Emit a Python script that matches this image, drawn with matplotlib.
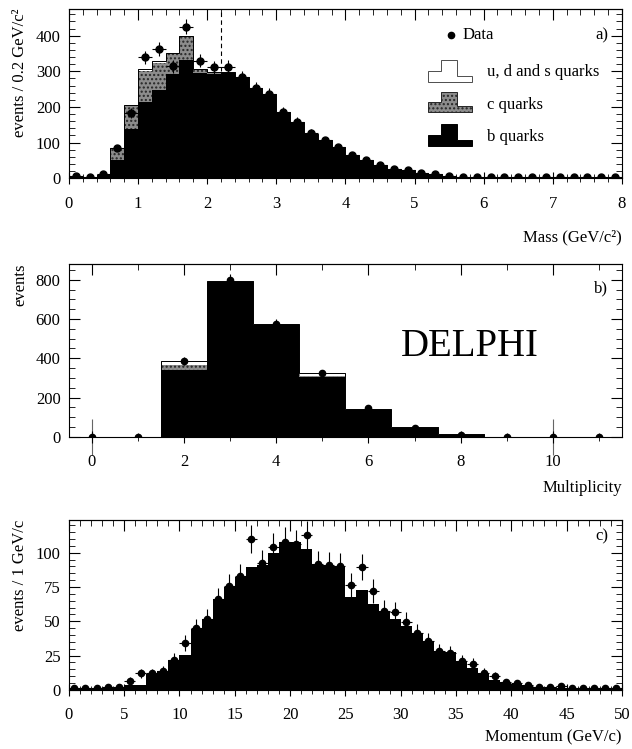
import numpy as np
import matplotlib
matplotlib.use('Agg')
import matplotlib.pyplot as plt
from matplotlib.ticker import MultipleLocator
from matplotlib.patches import Polygon

plt.rcParams['font.family'] = ['Liberation Serif', 'DejaVu Serif']
plt.rcParams['font.size'] = 12

'''Data'''
# a) mass, 0.2 GeV/c^2 bins from 0 to 8
mass_width = 0.2
mass_b = [3, 2, 8, 52, 138, 213, 248, 293, 332, 295, 293, 296, 283, 253, 237, 186, 158, 125, 106, 88,
          66, 50, 36, 27, 22, 15, 11, 7, 4, 3, 2, 2, 1.5, 1.5, 1, 1, 1, 1, 1, 1]
mass_c = [0, 0, 1, 31, 65, 89, 76, 56, 63, 10, 2, 0, 0, 0, 0, 0, 0, 0, 0, 0,
          0, 0, 0, 0, 0, 0, 0, 0, 0, 0, 0, 0, 0, 0, 0, 0, 0, 0, 0, 0]
mass_uds = [0, 0, 0, 2, 3, 4, 4, 3, 3, 2, 2, 1, 0, 0, 0, 0, 0, 0, 0, 0,
            0, 0, 0, 0, 0, 0, 0, 0, 0, 0, 0, 0, 0, 0, 0, 0, 0, 0, 0, 0]
mass_data = [5, 3, 11, 85, 184, 339, 363, 314, 425, 330, 311, 313, 285, 254, 237, 187, 158, 127, 106, 88,
             66, 51, 36, 27, 22, 15, 11, 6, 3, 3, 3, 3, 3, 3, 3, 3, 3, 3, 3, 3]
mass_err = [2, 2, 3, 9, 14, 18, 19, 18, 21, 18, 18, 18, 17, 16, 15, 14, 13, 11, 10, 9,
            8, 7, 6, 5, 5, 4, 3, 2, 2, 2, 2, 2, 2, 2, 2, 2, 2, 2, 2, 2]

# b) multiplicity 0..11
mult = [0, 1, 2, 3, 4, 5, 6, 7, 8, 9, 10, 11]
mult_b = [0, 0, 340, 786, 570, 307, 135, 48, 12, 0, 0, 0]
mult_c = [0, 0, 27, 5, 2, 3, 2, 1, 1, 0, 0, 0]
mult_uds = [0, 0, 20, 4, 2, 14, 6, 2, 1, 0, 0, 0]
mult_data = [1, 1, 388, 800, 574, 324, 145, 45, 10, 1, 1, 1]
mult_err = [0, 0, 20, 28, 24, 18, 12, 7, 3, 0, 0, 0]

# c) momentum, 1 GeV/c bins from 0 to 50
mom_width = 1.0
mom_b = [0.5, 0.5, 0.5, 1, 1.5, 3.7, 3.7, 11.8, 14, 22,
         25.7, 44, 52, 66, 75, 82, 89.5, 90.7, 99.8, 108,
         108, 103, 91.7, 91, 90, 68, 73, 62.5, 57.6, 51.5,
         46.6, 41.7, 35.5, 28, 27.5, 20.8, 16, 12.3, 7.4, 5.4,
         4, 3.7, 2, 1.5, 1.5, 1, 1, 1, 0.7, 0.5]
mom_data = [1, 1, 1, 2, 2, 6.6, 12, 12, 14, 22,
            34, 45, 52, 66, 75.5, 83, 110, 92.6, 104, 108,
            106, 112.7, 91.7, 91, 90, 76.5, 89.5, 72, 57.6, 56.4,
            49.5, 41.7, 35.5, 28, 27, 20.8, 19, 12.3, 9.8, 5.4,
            5, 3.7, 2, 2, 2.5, 1, 1, 1.5, 1, 1]
mom_err = [1, 1, 1, 1.5, 1.5, 2.5, 3.5, 3.5, 3.7, 4.7,
           5.8, 6.7, 7.2, 8.1, 8.7, 9.1, 10.5, 9.6, 10.2, 10.4,
           10.3, 10.6, 9.6, 9.5, 9.5, 8.7, 9.5, 8.5, 7.6, 7.5,
           7, 6.5, 6, 5.3, 5.2, 4.4, 4.4, 3.5, 3.1, 2.3,
           2.2, 1.9, 1.4, 1.4, 1.6, 1, 1, 1.2, 1, 1]

mass_cut = 2.2

'''Helpers'''
def style_axes(ax, xmaj, xmin, ymaj, ymin):
    ax.xaxis.set_major_locator(MultipleLocator(xmaj))
    ax.xaxis.set_minor_locator(MultipleLocator(xmin))
    ax.yaxis.set_major_locator(MultipleLocator(ymaj))
    ax.yaxis.set_minor_locator(MultipleLocator(ymin))
    ax.tick_params(axis='x', which='both', direction='inout', top=False, pad=8)
    ax.tick_params(axis='x', which='major', length=9, width=0.8)
    ax.tick_params(axis='x', which='minor', length=6, width=0.6)
    ax.tick_params(axis='y', which='both', direction='in', right=True, pad=6)
    ax.tick_params(axis='y', which='major', length=8, width=0.8)
    ax.tick_params(axis='y', which='minor', length=4, width=0.6)
    top = ax.secondary_xaxis('top')
    top.xaxis.set_major_locator(MultipleLocator(xmaj))
    top.xaxis.set_minor_locator(MultipleLocator(xmin))
    top.tick_params(which='both', direction='in', labeltop=False)
    top.tick_params(which='major', length=8, width=0.8)
    top.tick_params(which='minor', length=4, width=0.6)
    for s in ax.spines.values():
        s.set_linewidth(0.8)

def stack(ax, edges, b, c, uds):
    b = np.array(b, float)
    bc = b + np.array(c, float)
    tot = bc + np.array(uds, float)
    ax.stairs(tot, edges, baseline=bc, fill=True, facecolor='white', edgecolor='0.4', linewidth=0.6)
    ax.stairs(bc, edges, baseline=b, fill=True, facecolor='0.55', edgecolor='0.15',
              hatch='....', linewidth=0)
    ax.stairs(b, edges, fill=True, facecolor='black', linewidth=0)
    ax.stairs(tot, edges, color='black', linewidth=0.7)

def step_handle(ax, x0, y0, w, h, fc, ec, hatch=None):
    shape = np.array([(0, 0), (0, 0.5), (0.3, 0.5), (0.3, 1), (0.65, 1),
                      (0.65, 0.3), (1, 0.3), (1, 0)])
    pts = np.column_stack([x0 + shape[:, 0] * w, y0 + shape[:, 1] * h])
    p = Polygon(pts, closed=True, transform=ax.transAxes, facecolor=fc, edgecolor=ec,
                linewidth=0.7, hatch=hatch, clip_on=False)
    ax.add_patch(p)

'''Figure'''
fig = plt.figure(figsize=(6.32, 7.49), dpi=100)
L, W = 0.109, 0.875
axa = fig.add_axes([L, 0.762, W, 0.226])
axb = fig.add_axes([L, 0.4166, W, 0.231])
axc = fig.add_axes([L, 0.079, W, 0.227])

# a) mass
mass_edges = np.arange(len(mass_b) + 1) * mass_width
mass_centers = mass_edges[:-1] + mass_width / 2
stack(axa, mass_edges, mass_b, mass_c, mass_uds)
axa.errorbar(mass_centers, mass_data, yerr=mass_err, xerr=mass_width / 2, fmt='o', color='black',
             ms=5, elinewidth=0.8, capsize=0)
axa.axvline(mass_cut, ymin=0.636, ymax=1, color='black', ls=(0, (4, 3)), lw=0.8)
axa.set_xlim(0, 8)
axa.set_ylim(0, 475)
style_axes(axa, 1, 0.2, 100, 20)
axa.set_ylabel('events / 0.2 GeV/c²', loc='top')
axa.yaxis.set_label_coords(-0.074, 1)
axa.set_xlabel('Mass (GeV/c²)', loc='right')
axa.xaxis.set_label_coords(1, -0.3)
axa.text(0.975, 0.845, 'a)', transform=axa.transAxes, ha='right', va='center')
# legend
axa.plot([0.691], [0.846], 'o', color='black', ms=4.5, transform=axa.transAxes, clip_on=False)
axa.text(0.712, 0.846, 'Data', transform=axa.transAxes, va='center')
step_handle(axa, 0.649, 0.568, 0.08, 0.13, 'white', '0.3')
axa.text(0.756, 0.627, 'u, d and s quarks', transform=axa.transAxes, va='center')
step_handle(axa, 0.649, 0.39, 0.08, 0.12, '0.55', '0.15', hatch='....')
axa.text(0.756, 0.432, 'c quarks', transform=axa.transAxes, va='center')
step_handle(axa, 0.649, 0.189, 0.08, 0.13, 'black', 'black')
axa.text(0.756, 0.243, 'b quarks', transform=axa.transAxes, va='center')

# b) multiplicity
mult_edges = np.append(np.array(mult) - 0.5, mult[-1] + 0.5)
stack(axb, mult_edges, mult_b, mult_c, mult_uds)
axb.errorbar(mult, mult_data, yerr=mult_err, fmt='o', color='black', ms=4.5,
             elinewidth=0.8, capsize=0)
axb.set_xlim(-0.5, 11.5)
axb.set_ylim(0, 880)
style_axes(axb, 2, 1, 200, 50)
prim = axb.secondary_xaxis(0)
prim.set_xticks([0, 10])
prim.tick_params(direction='inout', length=26, width=0.8, color='0.4', labelbottom=False)
prim.spines['bottom'].set_visible(False)
axb.set_ylabel('events', loc='top')
axb.yaxis.set_label_coords(-0.074, 1)
axb.set_xlabel('Multiplicity', loc='right')
axb.xaxis.set_label_coords(1, -0.25)
axb.text(0.975, 0.86, 'b)', transform=axb.transAxes, ha='right', va='center')
axb.text(8.2, 459, 'DELPHI', fontsize=28, ha='center', va='center')

# c) momentum
mom_edges = np.arange(len(mom_b) + 1) * mom_width
mom_centers = mom_edges[:-1] + mom_width / 2
axc.stairs(mom_b, mom_edges, fill=True, facecolor='black', linewidth=0)
axc.errorbar(mom_centers, mom_data, yerr=mom_err, xerr=mom_width / 2, fmt='o', color='black',
             ms=4.5, elinewidth=0.8, capsize=0)
axc.set_xlim(0, 50)
axc.set_ylim(0, 124)
style_axes(axc, 5, 1, 25, 5)
axc.set_ylabel('events / 1 GeV/c', loc='top')
axc.yaxis.set_label_coords(-0.074, 1)
axc.set_xlabel('Momentum (GeV/c)', loc='right')
axc.xaxis.set_label_coords(1, -0.23)
axc.text(0.975, 0.9, 'c)', transform=axc.transAxes, ha='right', va='center')

fig.savefig('out.png', dpi=100)
